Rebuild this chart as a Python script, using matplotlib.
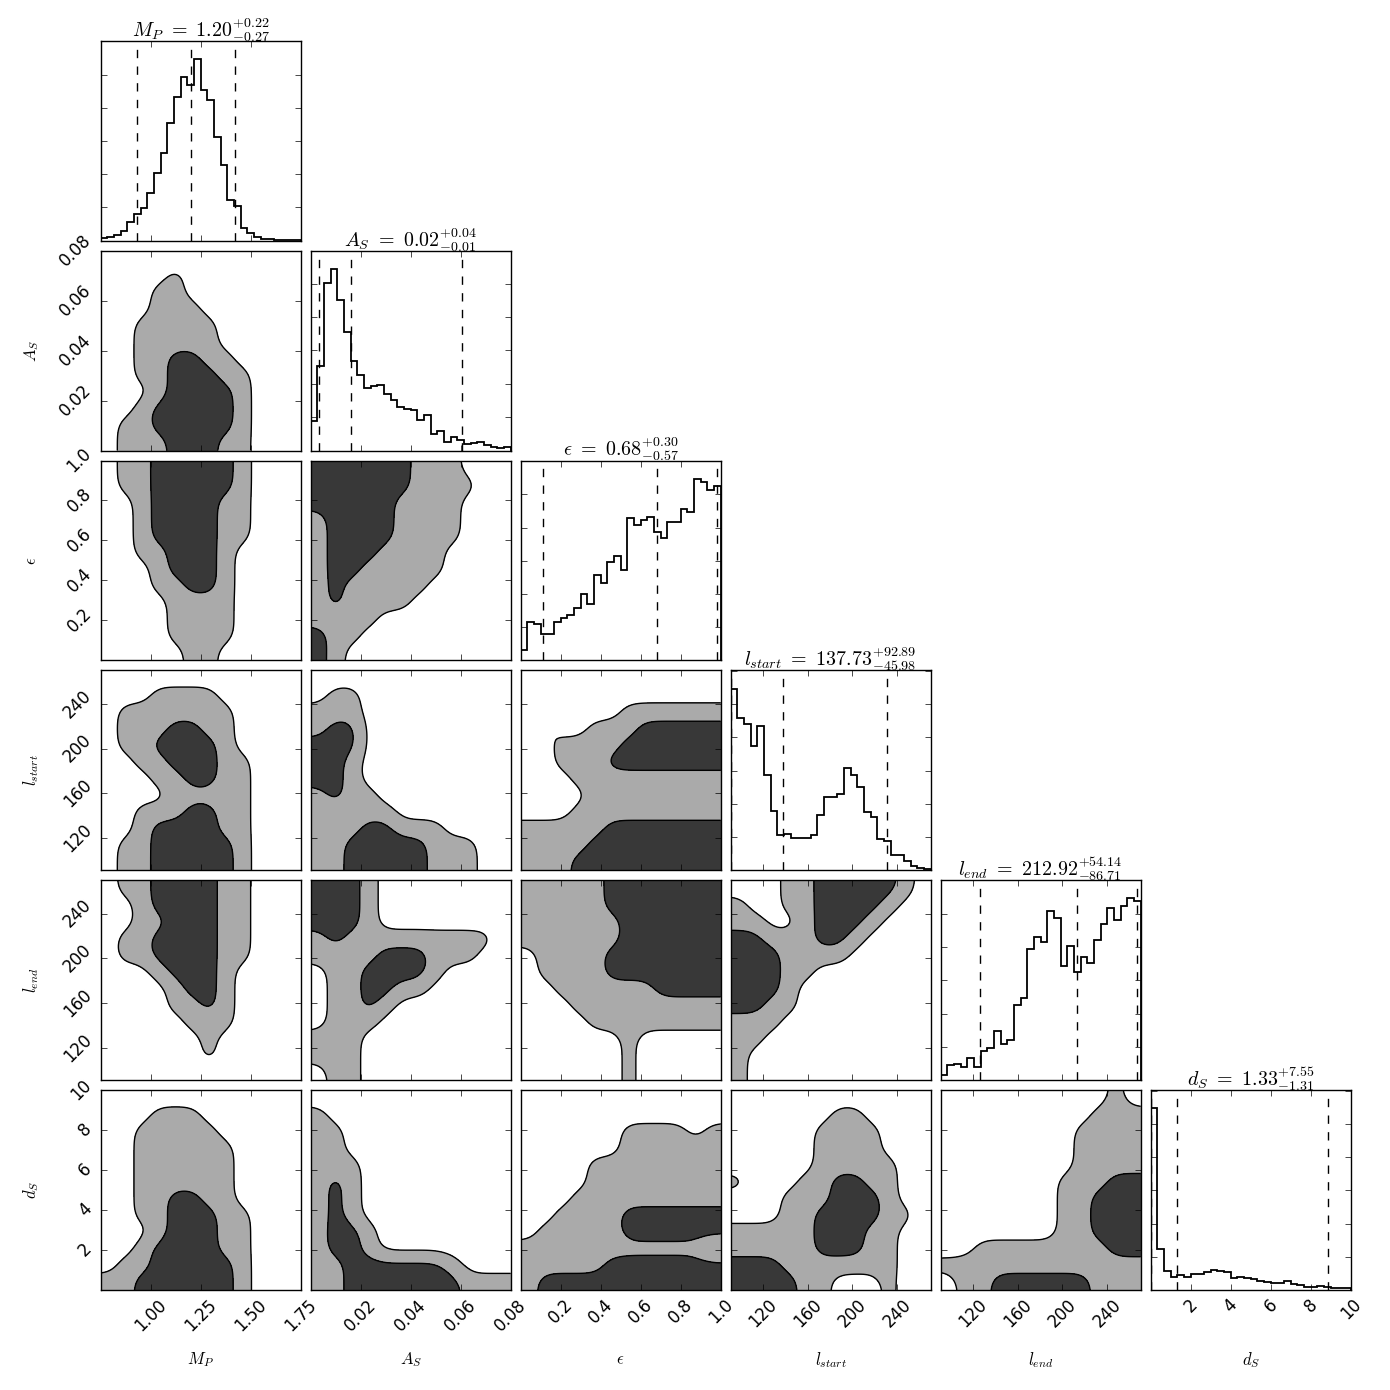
import numpy as np
import matplotlib
matplotlib.use("Agg")
import matplotlib.pyplot as plt
from matplotlib.ticker import MaxNLocator

plt.style.use("classic")
plt.rcParams["mathtext.fontset"] = "cm"
plt.rcParams["figure.facecolor"] = "white"

# ---------------------------------------------------
# parameters, plot ranges and quantiles (16 / 50 / 84 %)
# ---------------------------------------------------
names = ["M_P", "A_S", r"\epsilon", "l_{start}", "l_{end}", "d_S"]
extents = [(0.75, 1.75), (0.0, 0.08), (0.0, 1.0), (91.0, 270.0), (91.0, 270.0), (0.0, 10.0)]
q16 = [0.93, 0.0034, 0.11, 91.75, 126.21, 0.02]
q50 = [1.20, 0.0161, 0.68, 137.73, 212.92, 1.33]
q84 = [1.42, 0.0606, 0.98, 230.62, 267.06, 8.88]

# ---------------------------------------------------
# 1D marginal histograms (30 bins over the plot range)
# ---------------------------------------------------
hist_mp = [7, 12, 17, 28, 55, 80, 99, 142, 205, 265, 355, 432, 492, 467, 547,
           452, 423, 313, 229, 122, 105, 38, 23, 10, 6, 4, 3, 3, 2, 2]
hist_as = [87, 253, 503, 545, 451, 355, 267, 225, 188, 192, 195, 170, 152, 131, 125,
           120, 92, 105, 49, 60, 25, 40, 33, 20, 23, 26, 18, 10, 9, 10]
hist_eps = [30, 115, 109, 80, 80, 116, 127, 138, 158, 199, 169, 256, 234, 295, 314,
            273, 428, 409, 424, 431, 387, 367, 417, 418, 457, 448, 547, 537, 514, 525]
hist_lstart = [547, 458, 440, 373, 435, 288, 179, 107, 109, 96, 96, 96, 107, 167, 222,
               220, 229, 308, 287, 252, 174, 160, 95, 87, 47, 47, 28, 12, 7, 3]
hist_lend = [17, 47, 50, 39, 68, 40, 88, 96, 149, 110, 120, 226, 247, 394, 430,
             414, 508, 487, 342, 402, 326, 370, 352, 422, 468, 517, 482, 523, 546, 539]
hist_ds = [547, 124, 58, 39, 44, 39, 49, 48, 55, 60, 57, 55, 37, 39, 35,
           32, 28, 23, 20, 20, 26, 19, 14, 8, 10, 11, 8, 5, 5, 5]
hists = [hist_mp, hist_as, hist_eps, hist_lstart, hist_lend, hist_ds]

# ---------------------------------------------------
# 2D credible regions on a coarse 12x12 grid (top row first)
# 0 = outside, 1 = outer contour, 2 = inner contour
# ---------------------------------------------------
as_mp = ["000000000000", "000010000000", "000110000000", "000111000000",
         "001111100000", "001111100000", "001122110000", "001122211000",
         "000122221000", "001222221000", "011222221000", "011122211000"]
eps_mp = ["011222221000", "011222221000", "001222211000", "001222211000",
          "001222211000", "001122210000", "000122210000", "000112210000",
          "000011110000", "000011110000", "000011110000", "000001100000"]
lstart_mp = ["000000000000", "000111100000", "011111110000", "011122110000",
             "011222210000", "001122211000", "000112211000", "000011111000",
             "001112211000", "001222211000", "011222221000", "011222221000"]
lend_mp = ["011222211000", "001222211000", "001122211000", "011222211000",
           "011222211000", "000122210000", "000012210000", "000011210000",
           "000001110000", "000000100000", "000000100000", "000000000000"]
ds_mp = ["000000000000", "000111000000", "001111100000", "001111110000",
         "001111110000", "001111110000", "001122110000", "001122211000",
         "000122211000", "001222211000", "011222221000", "112222221000"]
eps_as = ["222222111000", "222222111100", "222221111000", "122221111000",
          "122221111000", "122211110000", "122111110000", "121111100000",
          "121111000000", "111100000000", "211000000000", "210000000000"]
lstart_as = ["000000000000", "011000000000", "111000000000", "122000000000",
             "222000000000", "221000000000", "221000000000", "121100000000",
             "111110000000", "111221110000", "112222211100", "112222211100"]
lend_as = ["222100000000", "222100000000", "222100000000", "121111111110",
           "111122211100", "011222210000", "011221100000", "011210000000",
           "011100000000", "111000000000", "111000000000", "011000000000"]
ds_as = ["000000000000", "100000000000", "110000000000", "110000000000",
         "111000000000", "121000000000", "121000000000", "121000000000",
         "122100000000", "122100000000", "112222221000", "112222222111"]
lstart_eps = ["000000000000", "000000000000", "000000111111", "010011122222",
              "001111222222", "001112222222", "000111111111", "000011111111",
              "000111111111", "111112222222", "111122222222", "111222222222"]
lend_eps = ["111112222222", "111112222222", "111111222222", "111111222222",
            "011112222222", "011112222222", "001111112222", "000111111111",
            "000011111111", "000000100000", "000000100000", "000000100000"]
ds_eps = ["000000000000", "000000000000", "000000111101", "000000111111",
          "000011111111", "000011111111", "000111111111", "001111222222",
          "011111222222", "111111111110", "111112222222", "122222222222"]
lend_lstart = ["000112222210", "100112222100", "110012221000", "221112210000",
               "222111100000", "222110000000", "222100000000", "221100000000",
               "111000000000", "110000000000", "100000000000", "100000000000"]
ds_lstart = ["000000000000", "000000110000", "000001111000", "000001111000",
             "000001111100", "100011221100", "000111222100", "000112222110",
             "111112221100", "111112221100", "222111111100", "222211000100"]
ds_lend = ["000000000010", "000000000111", "000000001111", "000000001111",
           "000000001111", "000000011122", "000000011222", "000000011222",
           "000000011222", "001111111122", "111111111111", "011222222111"]

regions = {
    (1, 0): as_mp, (2, 0): eps_mp, (3, 0): lstart_mp, (4, 0): lend_mp, (5, 0): ds_mp,
    (2, 1): eps_as, (3, 1): lstart_as, (4, 1): lend_as, (5, 1): ds_as,
    (3, 2): lstart_eps, (4, 2): lend_eps, (5, 2): ds_eps,
    (4, 3): lend_lstart, (5, 3): ds_lstart,
    (5, 4): ds_lend,
}


def smooth_grid(rows, n_fine=120, sigma=5.0):
    # resample the coarse grid finely and blur it, like a smoothed 2D histogram
    z = np.array([[int(c) for c in r] for r in rows], dtype=float)[::-1]
    m = z.shape[0]
    c = (np.arange(m) + 0.5) / m
    f = np.linspace(0.0, 1.0, n_fine)
    z = np.array([np.interp(f, c, row) for row in z])
    z = np.array([np.interp(f, c, col) for col in z.T]).T
    r = int(3 * sigma)
    t = np.arange(-r, r + 1)
    g = np.exp(-0.5 * (t / sigma) ** 2)
    g /= g.sum()
    z = np.pad(z, r, mode="edge")
    z = np.apply_along_axis(lambda v: np.convolve(v, g, mode="valid"), 0, z)
    z = np.apply_along_axis(lambda v: np.convolve(v, g, mode="valid"), 1, z)
    return z


n = len(names)
fig, axes = plt.subplots(n, n, figsize=(13.9, 13.9), dpi=100)
fig.subplots_adjust(left=0.0724, right=0.9717, bottom=0.0719, top=0.9707,
                    wspace=0.05, hspace=0.05)

for i in range(n):
    for j in range(n):
        ax = axes[i, j]
        if j > i:
            ax.set_visible(False)
            continue

        ax.tick_params(direction="in", top=True, right=True)
        ax.set_xlim(extents[j])
        ax.xaxis.set_major_locator(MaxNLocator(5, prune="lower"))

        if i == j:
            # marginal histogram with quantile lines
            lo, hi = extents[i]
            edges = np.linspace(lo, hi, len(hists[i]) + 1)
            centers = 0.5 * (edges[1:] + edges[:-1])
            ax.hist(centers, bins=edges, weights=hists[i], histtype="step",
                    color="k", lw=1.3)
            for q in (q16[i], q50[i], q84[i]):
                ax.axvline(q, ls="dashed", color="k", lw=1.0)
            ax.set_ylim(0, 1.1 * max(hists[i]))
            ax.tick_params(labelleft=False)
            up = q84[i] - q50[i]
            dn = q50[i] - q16[i]
            title = r"$%s\ =\ %.2f^{+%.2f}_{-%.2f}$" % (names[i], q50[i], up, dn)
            ax.set_title(title, fontsize=14.4, pad=3)
        else:
            xlo, xhi = extents[j]
            ylo, yhi = extents[i]
            z = smooth_grid(regions[(i, j)])
            xs = np.linspace(xlo, xhi, z.shape[1])
            ys = np.linspace(ylo, yhi, z.shape[0])
            ax.contourf(xs, ys, z, levels=[0.5, 1.5, 3.0],
                        colors=["#aaaaaa", "#383838"])
            ax.contour(xs, ys, z, levels=[0.5, 1.5], colors="k", linewidths=1.0)
            ax.set_ylim(extents[i])
            ax.yaxis.set_major_locator(MaxNLocator(5, prune="lower"))
            if j == 0:
                for lab in ax.get_yticklabels():
                    lab.set_rotation(45)
                ax.set_ylabel(r"$%s$" % names[i], fontsize=12)
                ax.yaxis.set_label_coords(-0.3, 0.5)
            else:
                ax.tick_params(labelleft=False)

        if i == n - 1:
            for lab in ax.get_xticklabels():
                lab.set_rotation(45)
            ax.set_xlabel(r"$%s$" % names[j], fontsize=12)
            ax.xaxis.set_label_coords(0.5, -0.3)
        else:
            ax.tick_params(labelbottom=False)

fig.savefig("out.png", dpi=100)
